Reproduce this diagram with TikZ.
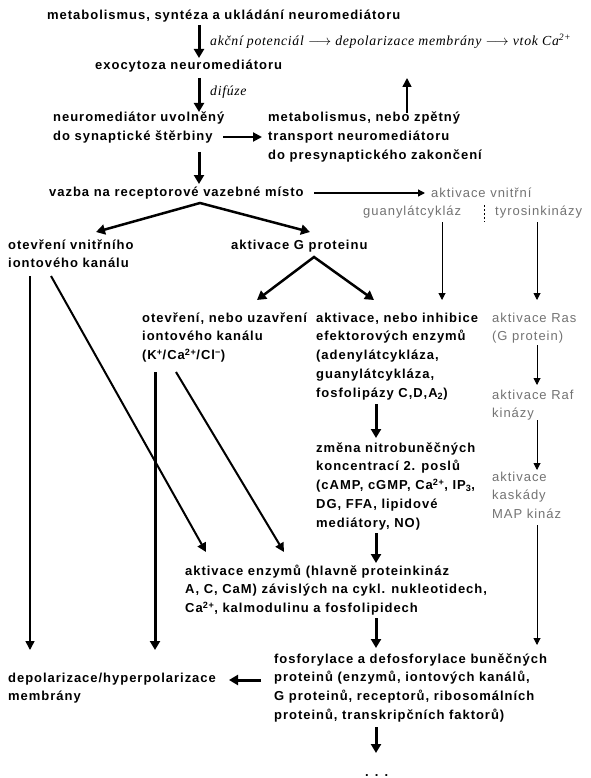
\documentclass[tikz,border=0pt]{standalone}
\usepackage{fontspec}
\setmainfont{Liberation Sans}[LetterSpace=7.5]
\newfontfamily\tms{Liberation Serif}[LetterSpace=5]
\usetikzlibrary{arrows.meta}
\begin{document}
\begin{tikzpicture}[x=1pt,y=-1pt,
  blk/.style={anchor=base west,inner sep=0pt,align=left,font=\fontsize{13}{18.8}\selectfont\bfseries},
  gry/.style={anchor=base west,inner sep=0pt,align=left,text=black!55,font=\fontsize{13}{18.8}\selectfont},
  itl/.style={anchor=base west,inner sep=0pt,font=\tms\itshape\fontsize{13.8}{16}\selectfont},
  big/.style={line width=3pt,-{Triangle[width=10pt,length=9pt]}},
  mid/.style={line width=2pt,-{Triangle[width=9pt,length=9pt]}},
  thn/.style={line width=1pt,-{Triangle[width=7pt,length=7pt]}},
  sep/.style={line width=0.8pt,dash pattern=on 2pt off 2pt}]
\useasboundingbox (0,0) rectangle (590,778);
\fill[white] (0,0) rectangle (590,778);
% texts (base anchor = baseline of the last line)
\node[blk] (title) at (47,19.5) {metabolismus, syntéza a ukládání neuromediátoru};
\node[itl] (ap) at (210,46) {akční potenciál $\longrightarrow$ depolarizace membrány $\longrightarrow$ vtok Ca\textsuperscript{2+}};
\node[blk] (exo) at (95,70) {exocytoza neuromediátoru};
\node[itl] (dif) at (210,96) {difúze};
\node[blk] (uvol) at (53,140.8) {neuromediátor uvolněný\\do synaptické štěrbiny};
\node[blk] (zpet) at (268,159.6) {metabolismus, nebo zpětný\\transport neuromediátoru\\do presynaptického zakončení};
\node[blk] (vazba) at (49,196) {vazba na receptorové vazebné místo};
\node[gry] (avn) at (431,197) {aktivace vnitřní};
\node[gry] (guc) at (363,215) {guanylátcykláz};
\node[gry] (tyr) at (495,215) {tyrosinkinázy};
\node[blk] (otv) at (8,267.8) {otevření vnitřního\\iontového kanálu};
\node[blk] (agp) at (231,249) {aktivace G proteinu};
\node[blk] (otn) at (142,359.6) {otevření, nebo uzavření\\iontového kanálu\\(K\textsuperscript{+}/Ca\textsuperscript{2+}/Cl\textsuperscript{−})};
\node[blk] (akt) at (316,397.2) {aktivace, nebo inhibice\\efektorových enzymů\\(adenylátcykláza,\\guanylátcykláza,\\fosfolipázy C,D,A\textsubscript{2})};
\node[gry] (ras) at (492,340.8) {aktivace Ras\\(G protein)};
\node[gry] (raf) at (492,417.8) {aktivace Raf\\kinázy};
\node[blk] (zmena) at (316,527.2) {změna nitrobuněčných\\koncentrací 2. poslů\\(cAMP, cGMP, Ca\textsuperscript{2+}, IP\textsubscript{3},\\DG, FFA, lipidové\\mediátory, NO)};
\node[gry] (map) at (492,518.6) {aktivace\\kaskády\\MAP kináz};
\node[blk] (aenz) at (185,612.6) {aktivace enzymů (hlavně proteinkináz\\A, C, CaM) závislých na cykl. nukleotidech,\\Ca\textsuperscript{2+}, kalmodulinu a fosfolipidech};
\node[blk] (fos) at (274,719.4) {fosforylace a defosforylace buněčných\\proteinů (enzymů, iontových kanálů,\\G proteinů, receptorů, ribosomálních\\proteinů, transkripčních faktorů)};
\node[blk] (dep) at (8,700.8) {depolarizace/hyperpolarizace\\membrány};
\node[blk] (dots) at (365,776) {. . .};
% connector end points
\coordinate (c1a) at (199,25);  \coordinate (c1b) at (199,58);
\coordinate (c2a) at (199,78);  \coordinate (c2b) at (199,112);
\coordinate (c3a) at (407,113); \coordinate (c3b) at (407,78);
\coordinate (c4a) at (223,137); \coordinate (c4b) at (262,137);
\coordinate (c5a) at (199,152); \coordinate (c5b) at (199,184);
\coordinate (c6a) at (314,193); \coordinate (c6b) at (425,193);
\coordinate (s1a) at (484,205); \coordinate (s1b) at (484,222);
\coordinate (z1l) at (96,232);  \coordinate (z1) at (200,203); \coordinate (z1r) at (310,232);
\coordinate (z2l) at (257,300); \coordinate (z2) at (314,257); \coordinate (z2r) at (374,300);
\coordinate (g1a) at (442,222); \coordinate (g1b) at (442,300);
\coordinate (g2a) at (537,222); \coordinate (g2b) at (537,300);
\coordinate (r1a) at (537,345); \coordinate (r1b) at (537,385);
\coordinate (r2a) at (537,420); \coordinate (r2b) at (537,470);
\coordinate (r3a) at (537,525); \coordinate (r3b) at (537,645);
\coordinate (m1a) at (376,404); \coordinate (m1b) at (376,438);
\coordinate (m2a) at (376,533); \coordinate (m2b) at (376,563);
\coordinate (m3a) at (376,618); \coordinate (m3b) at (376,648);
\coordinate (m4a) at (376,727); \coordinate (m4b) at (376,753);
\coordinate (l1a) at (30,276);  \coordinate (l1b) at (30,650);
\coordinate (l2a) at (155,372); \coordinate (l2b) at (155,650);
\coordinate (d1a) at (51,276);  \coordinate (d1b) at (206,552);
\coordinate (d2a) at (176,372); \coordinate (d2b) at (284,552);
\coordinate (h1a) at (261,680); \coordinate (h1b) at (229,680);
% connectors
\draw[big] (c1a) -- (c1b);
\draw[big] (c2a) -- (c2b);
\draw[mid,line width=1.5pt] (c3a) -- (c3b);
\draw[mid] (c4a) -- (c4b);
\draw[big] (c5a) -- (c5b);
\draw[thn,line width=1.3pt] (c6a) -- (c6b);
\draw[sep] (s1a) -- (s1b);
\draw[mid,line width=2.5pt,{Triangle[width=10pt,length=9pt]}-{Triangle[width=10pt,length=9pt]}] (z1l) -- (z1) -- (z1r);
\draw[mid,line width=2.5pt,{Triangle[width=10pt,length=9pt]}-{Triangle[width=10pt,length=9pt]}] (z2l) -- (z2) -- (z2r);
\draw[thn] (g1a) -- (g1b);
\draw[thn] (g2a) -- (g2b);
\draw[thn] (r1a) -- (r1b);
\draw[thn] (r2a) -- (r2b);
\draw[thn] (r3a) -- (r3b);
\draw[big] (m1a) -- (m1b);
\draw[big] (m2a) -- (m2b);
\draw[big] (m3a) -- (m3b);
\draw[big] (m4a) -- (m4b);
\draw[mid,line width=1.5pt] (l1a) -- (l1b);
\draw[big] (l2a) -- (l2b);
\draw[mid] (d1a) -- (d1b);
\draw[mid] (d2a) -- (d2b);
\draw[big] (h1a) -- (h1b);
\end{tikzpicture}
\end{document}
